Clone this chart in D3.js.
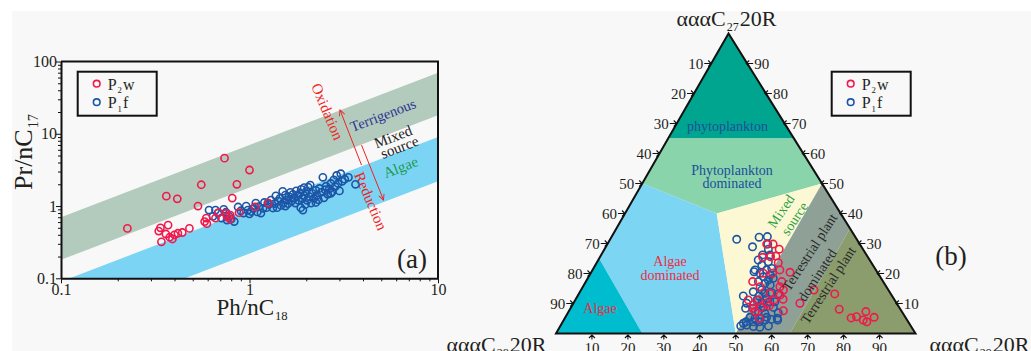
<!DOCTYPE html>
<html>
<head>
<meta charset="utf-8">
<script src="https://cdn.jsdelivr.net/npm/d3@7"></script>
<style>
body { margin: 0; background: #fff; }
svg { display: block; }
text { font-family: "Liberation Serif", "Times New Roman", serif; }
</style>
</head>
<body>
<svg id="svg" width="1031" height="351"></svg>
<script>
// ---- data: (a) Pr/nC17 vs Ph/nC18 ----
const p2wA = [
  [0.225, 0.49], [0.33, 0.45], [0.337, 0.50], [0.37, 0.545], [0.362, 1.37], [0.414, 1.26],
  [0.341, 0.32], [0.36, 0.41], [0.377, 0.37], [0.39, 0.35], [0.40, 0.40], [0.417, 0.42],
  [0.44, 0.43], [0.48, 0.49], [0.533, 1.0], [0.555, 1.97], [0.578, 0.61], [0.59, 0.68],
  [0.594, 0.57], [0.66, 0.68], [0.685, 0.81], [0.737, 4.6], [0.75, 0.79], [0.76, 0.71],
  [0.79, 0.75], [0.81, 1.29], [0.857, 2.0], [0.79, 0.66], [0.88, 0.81], [1.0, 3.15],
  [1.07, 0.97], [1.26, 1.1]
];
const p1fA = [
  [0.61, 0.88], [0.64, 0.72], [0.66, 0.88], [0.68, 0.80], [0.71, 0.68], [0.73, 0.90],
  [0.75, 0.82], [0.76, 0.64], [0.78, 0.72], [0.80, 0.66], [0.83, 0.61], [0.87, 0.97],
  [0.90, 0.86], [0.93, 0.80], [0.96, 1.0], [0.98, 0.88], [1.00, 0.78], [1.02, 0.84],
  [1.05, 0.93], [1.08, 1.10], [1.10, 0.83], [1.12, 0.98], [1.15, 0.80], [1.18, 0.93],
  [1.20, 1.12], [1.23, 0.95], [1.27, 1.05], [1.30, 1.21], [1.33, 0.94], [1.36, 1.08],
  [1.38, 1.38], [1.42, 1.18], [1.45, 1.28], [1.47, 1.02], [1.50, 1.60], [1.52, 1.12],
  [1.55, 1.42], [1.58, 1.22], [1.60, 1.08], [1.62, 1.35], [1.65, 1.55], [1.68, 1.18],
  [1.70, 1.45], [1.72, 1.28], [1.75, 1.10], [1.77, 1.62], [1.80, 1.38], [1.82, 1.20],
  [1.85, 1.50], [1.87, 0.95], [1.88, 1.70], [1.90, 1.28], [1.92, 0.88], [1.95, 1.40],
  [1.98, 1.05], [2.00, 1.60], [2.02, 1.20], [2.05, 1.82], [2.08, 1.35], [2.10, 1.95],
  [2.12, 1.10], [2.15, 1.50], [2.20, 1.28], [2.25, 1.65], [2.28, 1.40], [2.32, 1.22],
  [2.35, 1.75], [2.40, 1.55], [2.45, 2.50], [2.48, 1.30], [2.52, 1.68], [2.55, 1.88],
  [2.60, 1.45], [2.65, 1.72], [2.70, 2.05], [2.75, 1.58], [2.80, 2.30], [2.85, 1.85],
  [2.90, 2.65], [2.95, 2.05], [3.00, 1.62], [3.05, 2.80], [3.10, 2.20], [3.20, 2.35],
  [3.35, 2.50], [3.65, 2.00], [1.25, 1.10], [1.40, 0.95], [1.55, 1.00], [1.95, 1.80],
  [2.25, 1.12], [2.70, 1.50]
];
// bands: Pr/nC17 = k * Ph/nC18, [lower k, upper k]
const terrigenousBand = [1.8, 7.0];
const algaeBand = [0.22, 0.9];
const xDomainA = [0.1, 10];
const yDomainA = [0.1, 100];

// ---- data: (b) ternary [C27 %, C29 %], C28 = rest ----
const p2wB = [
  [29.8, 44.3], [29.8, 46.1], [28.1, 48.6], [25.8, 48.8], [25.6, 47.4], [25.4, 45.3],
  [23.6, 50.5], [21.2, 52.1], [20.4, 55.3], [20.1, 48.0], [20.1, 50.6], [17.3, 46.4],
  [17.3, 54.5], [15.6, 49.3], [14.5, 56.3], [13.4, 53.1], [12.8, 56.2], [11.2, 48.1],
  [11.2, 50.9], [9.5, 50.3], [9.2, 54.9], [11.4, 57.7], [8.7, 52.8], [7.6, 59.6],
  [7.3, 51.9], [10.1, 63.0], [14.5, 64.8], [13.2, 71.2], [8.1, 74.9], [5.2, 79.6],
  [5.6, 80.9], [7.3, 82.7], [4.5, 83.3], [3.9, 84.6], [5.4, 85.9], [8.4, 50.8],
  [10.1, 53.8], [11.2, 55.3], [5.1, 54.1], [15.6, 54.8]
];
const p1fB = [
  [31.4, 35.2], [32.1, 41.1], [32.3, 43.3], [28.9, 40.8], [29.8, 44.6], [26.2, 44.9],
  [28.1, 45.6], [26.2, 47.0], [24.5, 44.5], [22.8, 46.3], [23.9, 47.6], [21.2, 45.2],
  [20.6, 45.2], [20.1, 47.1], [21.2, 48.4], [21.7, 49.6], [19.5, 50.2], [18.9, 48.6],
  [17.8, 50.5], [18.4, 51.6], [17.3, 48.0], [16.7, 50.1], [16.2, 51.8], [13.9, 48.2],
  [14.5, 50.3], [13.4, 51.7], [13.6, 53.5], [13.2, 55.5], [12.5, 46.1], [12.5, 50.5],
  [11.2, 50.5], [11.7, 53.0], [10.1, 48.2], [10.1, 52.4], [10.6, 54.4], [10.6, 55.8],
  [8.4, 48.7], [8.4, 50.8], [8.7, 53.5], [8.7, 56.3], [7.3, 52.8], [6.9, 58.5],
  [6.7, 54.9], [5.4, 51.4], [5.1, 52.9], [5.1, 54.3], [5.4, 56.0], [4.7, 57.7],
  [5.1, 59.1], [3.9, 51.0], [2.5, 50.2], [2.8, 51.7], [2.3, 53.8], [2.1, 55.7],
  [2.5, 57.9], [4.5, 59.5], [3.4, 50.5], [3.9, 53.0], [3.9, 54.7], [4.5, 56.0]
];
const ternTicks = [10, 20, 30, 40, 50, 60, 70, 80, 90];
// source regions, vertices as [C27, C28, C29] %
const phytoRegion = [[100, 0, 0], [65, 35, 0], [65, 0, 35]];
const phytoDomRegion = [[65, 35, 0], [50, 50, 0], [40, 34.5, 25.5], [50, 0, 50], [65, 0, 35]];
const algaeDomRegion = [[50, 50, 0], [25, 75, 0], [0, 76, 24], [0, 50, 50], [40, 34.5, 25.5]];
const algaeRegion = [[0, 100, 0], [25, 75, 0], [0, 76, 24]];
const mixedRegion = [[40, 34.5, 25.5], [0, 50, 50], [50, 0, 50]];
const terrDomRegion = [[50, 0, 50], [0, 50, 50], [0, 35, 65], [35, 0, 65]];
const terrRegion = [[0, 0, 100], [35, 0, 65], [0, 35, 65]];

const red = '#f0194c';
const blue = '#1c55a6';
const serif = '"Liberation Serif", "Times New Roman", serif';

const svg = d3.select('#svg');

svg.append('rect').attr('x', 12).attr('y', 11).attr('width', 1031).attr('height', 351).attr('fill', '#f8f8f8');

drawChartA();
drawChartB();

function subText(g, x, y, parts, size, anchor) {
  // parts: [main, sub, main, sub, ...]
  const t = g.append('text').attr('x', x).attr('y', y)
    .attr('font-size', size).attr('fill', '#231f20')
    .attr('text-anchor', anchor || 'start');
  let down = false;
  parts.forEach((p, i) => {
    const isSub = i % 2 === 1;
    const ts = t.append('tspan').text(p);
    if (isSub) {
      ts.attr('font-size', size * 0.55).attr('dy', size * 0.22).attr('dx', 1);
      down = true;
    } else if (down) {
      ts.attr('dy', -size * 0.22).attr('dx', 1);
      down = false;
    }
  });
  return t;
}

function legend(g, x, y) {
  g.append('rect').attr('x', x).attr('y', y).attr('width', 79).attr('height', 44)
    .attr('fill', 'none').attr('stroke', '#111').attr('stroke-width', 2);
  [[red, ['P', '2', 'w']], [blue, ['P', '1', 'f']]].forEach((d, i) => {
    g.append('circle').attr('cx', x + 19).attr('cy', y + 12 + i * 18.5).attr('r', 3.3)
      .attr('fill', 'none').attr('stroke', d[0]).attr('stroke-width', 1.6);
    subText(g, x + 30, y + 17.8 + i * 18.5, d[1], 16);
  });
}

function drawChartA() {
  const g = svg.append('g');
  const x = d3.scaleLog().domain(xDomainA).range([61, 438]);
  const y = d3.scaleLog().domain(yDomainA).range([278.3, 61.5]);
  const isMajor = d => Math.abs(Math.log10(d) - Math.round(Math.log10(d))) < 1e-6;
  const fmt = d => isMajor(d) ? (Math.round(Math.log10(d)) < 0 ? '0.1' : String(Math.round(d))) : '';

  g.append('clipPath').attr('id', 'clipA').append('rect')
    .attr('x', 61).attr('y', 61.5).attr('width', 377).attr('height', 216.8);

  // bands run past the frame and are clipped to it
  const band = k => d3.area()
    .x(d => x(d)).y0(d => y(k[0] * d)).y1(d => y(k[1] * d));
  const xs = [0.01, 100];
  const bands = g.append('g').attr('clip-path', 'url(#clipA)');
  bands.append('path').attr('d', band(terrigenousBand)(xs)).attr('fill', '#b3cbbd');
  bands.append('path').attr('d', band(algaeBand)(xs)).attr('fill', '#7bd4f3');

  // band labels
  const ang = -Math.atan((y(1) - y(10)) / (x(10) - x(1))) * 180 / Math.PI;
  const lab = (t, cx, cy, col, rot, size) => g.append('text').text(t)
    .attr('transform', `translate(${cx},${cy}) rotate(${rot})`)
    .attr('text-anchor', 'middle').attr('dy', '0.35em')
    .attr('font-size', size || 15).attr('fill', col);
  lab('Terrigenous', 383, 115, '#2b3591', ang, 14.5);
  lab('Mixed', 393, 136.5, '#222', ang, 15);
  lab('source', 399.5, 147, '#222', ang, 15);
  lab('Algae', 400.5, 167, '#1c9a52', ang, 15);
  lab('Oxidation', 327.5, 111.5, '#f0231f', 67, 15);
  lab('Reduction', 371, 201, '#f0231f', 67, 15);

  // oxidation / reduction arrows
  const defs = svg.append('defs');
  defs.append('marker').attr('id', 'arrR').attr('viewBox', '0 0 10 10')
    .attr('refX', 9).attr('refY', 5).attr('markerWidth', 7).attr('markerHeight', 7)
    .attr('orient', 'auto').append('path').attr('d', 'M1,1 L9,5 L1,9')
    .attr('fill', 'none').attr('stroke', '#f0231f').attr('stroke-width', 1.3);
  g.append('line').attr('x1', 361.5).attr('y1', 165).attr('x2', 340).attr('y2', 110)
    .attr('stroke', '#f0231f').attr('stroke-width', 1).attr('marker-end', 'url(#arrR)');
  g.append('line').attr('x1', 361.5).attr('y1', 145).attr('x2', 383.5).attr('y2', 200)
    .attr('stroke', '#f0231f').attr('stroke-width', 1).attr('marker-end', 'url(#arrR)');

  // points
  const pts = g.append('g').attr('clip-path', 'url(#clipA)');
  pts.selectAll(null).data(p1fA).enter().append('circle')
    .attr('cx', d => x(d[0])).attr('cy', d => y(d[1])).attr('r', 3.6)
    .attr('fill', 'none').attr('stroke', blue).attr('stroke-width', 1.6);
  pts.selectAll(null).data(p2wA).enter().append('circle')
    .attr('cx', d => x(d[0])).attr('cy', d => y(d[1])).attr('r', 3.6)
    .attr('fill', 'none').attr('stroke', red).attr('stroke-width', 1.6);

  // axes
  const xAxis = g.append('g').attr('transform', 'translate(0,278.3)')
    .call(d3.axisBottom(x).tickValues(x.ticks()).tickFormat(fmt).tickSize(3).tickSizeOuter(0).tickPadding(3));
  const yAxis = g.append('g').attr('transform', 'translate(61,0)')
    .call(d3.axisLeft(y).tickValues(y.ticks()).tickFormat(fmt).tickSize(3).tickSizeOuter(0).tickPadding(3));
  [xAxis, yAxis].forEach(a => {
    a.select('.domain').attr('stroke', '#111').attr('stroke-width', 2);
    a.selectAll('.tick line').attr('stroke', '#111').attr('stroke-width', 1);
    a.selectAll('.tick text').attr('font-family', serif).attr('font-size', 16).attr('fill', '#231f20');
  });
  xAxis.selectAll('.tick').filter(isMajor).select('line').attr('y2', 5);
  xAxis.selectAll('.tick text').attr('y', 5);
  yAxis.selectAll('.tick').filter(isMajor).select('line').attr('x2', -5);
  yAxis.selectAll('.tick text').attr('x', -4);

  g.append('path').attr('d', 'M61,61.5H438V278.3').attr('fill', 'none')
    .attr('stroke', '#111').attr('stroke-width', 2);

  subText(g, 216.5, 315, ['Ph/nC', '18'], 23);
  subText(g, 0, 0, ['Pr/nC', '17'], 26, 'middle')
    .attr('transform', 'translate(32,152) rotate(-90)').attr('x', 0).attr('y', 0);

  legend(g, 77.7, 71.7);

  g.append('text').text('(a)').attr('x', 412).attr('y', 268)
    .attr('text-anchor', 'middle').attr('font-size', 27).attr('fill', '#231f20');
}

function drawChartB() {
  const g = svg.append('g');
  const A = [728.5, 33.5], B = [556, 333.5], C = [915.5, 333.5];
  const tern = (c27, c28, c29) => {
    const s = c27 + c28 + c29;
    return [(c27 * A[0] + c28 * B[0] + c29 * C[0]) / s, (c27 * A[1] + c28 * B[1] + c29 * C[1]) / s];
  };
  const poly = d3.line().x(d => d[0]).y(d => d[1]);
  const region = (r, col) => g.append('path')
    .attr('d', poly(r.map(v => tern(v[0], v[1], v[2]))) + 'Z').attr('fill', col);

  region(phytoRegion, '#00a58f');
  region(phytoDomRegion, '#89d4aa');
  region(algaeDomRegion, '#7dd5f4');
  region(algaeRegion, '#00bccf');
  region(mixedRegion, '#fdf8d4');
  region(terrDomRegion, '#8fa196');
  region(terrRegion, '#8b9d6d');

  // region labels
  const lab = (t, cx, cy, col, rot, size) => g.append('text').text(t)
    .attr('transform', `translate(${cx},${cy}) rotate(${rot || 0})`)
    .attr('text-anchor', 'middle').attr('dy', '0.35em')
    .attr('font-size', size || 14).attr('fill', col);
  lab('phytoplankton', 727.5, 126, '#1d4e9c');
  lab('Phytoplankton', 732, 170, '#1d4e9c');
  lab('dominated', 732, 183.5, '#1d4e9c');
  lab('Algae', 670, 261.5, '#ec2c45');
  lab('dominated', 670, 275.5, '#ec2c45');
  lab('Algae', 600, 308.5, '#ec2c45');
  lab('Mixed', 781, 211, '#2c9f46', -56);
  lab('source', 794.5, 218.5, '#2c9f46', -56);

  // points
  const toXY = d => tern(d[0], 100 - d[0] - d[1], d[1]);
  g.selectAll(null).data(p1fB).enter().append('circle')
    .attr('cx', d => toXY(d)[0]).attr('cy', d => toXY(d)[1]).attr('r', 3.7)
    .attr('fill', 'none').attr('stroke', blue).attr('stroke-width', 1.6);
  g.selectAll(null).data(p2wB).enter().append('circle')
    .attr('cx', d => toXY(d)[0]).attr('cy', d => toXY(d)[1]).attr('r', 3.7)
    .attr('fill', 'none').attr('stroke', red).attr('stroke-width', 1.6);

  lab('Terrestrial plant', 809.5, 252, '#2a2a2a', -57, 14);
  lab('dominated', 817, 275, '#2a2a2a', -57, 14);
  lab('Terrestrial plant', 828, 285, '#2a2a2a', -57, 14);

  // triangle
  g.append('path').attr('d', poly([A, B, C]) + 'Z').attr('fill', 'none')
    .attr('stroke', '#111').attr('stroke-width', 2).attr('stroke-linejoin', 'miter');

  // ticks
  const tk = g.append('g').attr('stroke', '#111').attr('stroke-width', 1.1).attr('fill', 'none');
  const txt = (t, xx, yy, anchor) => g.append('text').text(t).attr('x', xx).attr('y', yy)
    .attr('text-anchor', anchor).attr('font-size', 15).attr('fill', '#231f20');
  ternTicks.forEach(v => {
    const l = tern(100 - v, v, 0);
    tk.append('path').attr('d', `M${l[0] - 7},${l[1]}H${l[0]}M${l[0] - 3},${l[1] - 3}L${l[0]},${l[1]}L${l[0] - 3},${l[1] + 3}`);
    txt(v, l[0] - 8, l[1] + 5, 'end');
    const r = tern(v, 0, 100 - v);
    tk.append('path').attr('d', `M${r[0] + 6},${r[1]}H${r[0] - 1}M${r[0] + 2},${r[1] - 3}L${r[0] - 1},${r[1]}L${r[0] + 2},${r[1] + 3}`);
    txt(v, r[0] + 7, r[1] + 5, 'start');
    const b = tern(0, 100 - v, v);
    tk.append('path').attr('d', `M${b[0]},${b[1] + 1}V${b[1] + 6}M${b[0] - 3},${b[1] + 4.5}L${b[0]},${b[1] + 1.5}L${b[0] + 3},${b[1] + 4.5}`);
    txt(v, b[0], b[1] + 19, 'middle');
  });

  subText(g, 676.5, 26, ['αααC', '27', '20R'], 22);
  subText(g, 446.5, 352, ['αααC', '28', '20R'], 22);
  subText(g, 929.5, 352, ['αααC', '29', '20R'], 22);

  legend(g, 831.7, 71.7);

  g.append('text').text('(b)').attr('x', 951).attr('y', 265)
    .attr('text-anchor', 'middle').attr('font-size', 27).attr('fill', '#231f20');
}
</script>
</body>
</html>
